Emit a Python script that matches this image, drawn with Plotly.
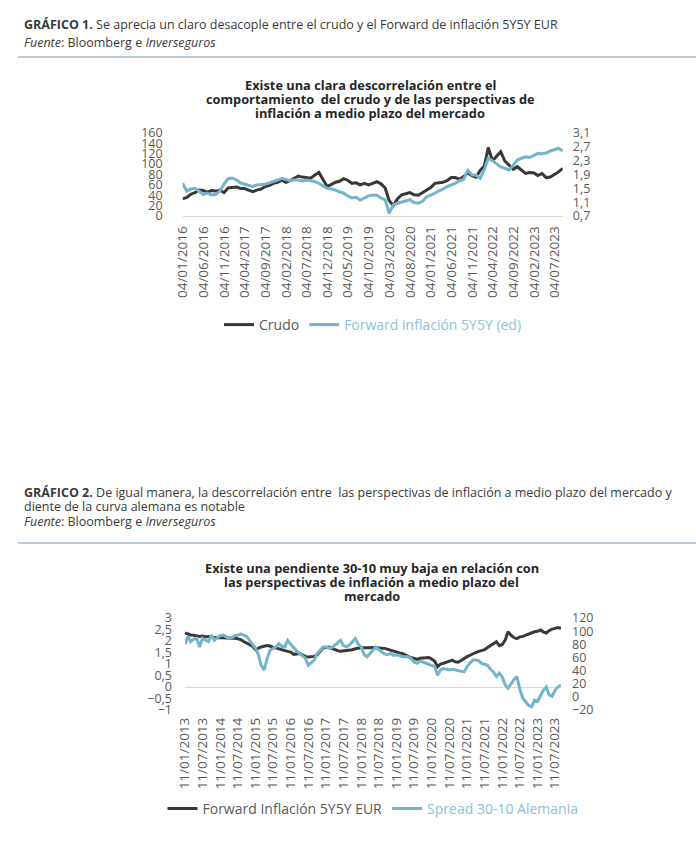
import pandas as pd
import plotly.graph_objects as go

# ---------------- Data: Chart 1 (monthly, Jan 2016 - Sep 2023) ----------------
crudo = [
    33, 36, 42, 45, 50, 49, 46, 49, 48, 50, 45, 54,
    55, 56, 53, 53, 50, 47, 50, 52, 57, 59, 63, 65,
    69, 65, 68, 73, 77, 75, 74, 73, 79, 84, 70, 57,
    61, 65, 67, 72, 69, 63, 64, 60, 63, 60, 63, 66,
    62, 54, 30, 20, 33, 41, 43, 45, 41, 40, 45, 50,
    55, 63, 64, 65, 68, 74, 74, 71, 76, 83, 78, 75,
    88, 97, 132, 106, 115, 124, 106, 98, 90, 95, 88, 82,
    84, 83, 78, 82, 74, 75, 80, 85, 92,
]
forward_5y5y_ed = [
    1.65, 1.42, 1.48, 1.50, 1.42, 1.32, 1.36, 1.31, 1.33, 1.42, 1.62, 1.78,
    1.80, 1.74, 1.66, 1.62, 1.60, 1.55, 1.60, 1.60, 1.62, 1.66, 1.69, 1.74,
    1.79, 1.76, 1.72, 1.74, 1.74, 1.71, 1.74, 1.72, 1.70, 1.64, 1.56, 1.50,
    1.48, 1.45, 1.40, 1.36, 1.28, 1.22, 1.24, 1.16, 1.22, 1.28, 1.31, 1.30,
    1.22, 1.17, 0.78, 1.02, 1.07, 1.11, 1.15, 1.17, 1.09, 1.07, 1.12, 1.25,
    1.30, 1.36, 1.40, 1.48, 1.55, 1.60, 1.64, 1.72, 1.76, 2.02, 1.89, 1.88,
    1.79, 2.05, 2.37, 2.30, 2.22, 2.12, 2.08, 2.03, 2.17, 2.32, 2.37, 2.41,
    2.39, 2.46, 2.51, 2.50, 2.52, 2.58, 2.62, 2.66, 2.58,
]
dates1 = pd.date_range("2016-01-01", periods=len(crudo), freq="MS")

# ---------------- Data: Chart 2 (monthly, Jan 2013 - Sep 2023) ----------------
forward_5y5y_eur = [
    2.35, 2.30, 2.26, 2.25, 2.23, 2.20, 2.22, 2.19, 2.20, 2.17, 2.14, 2.15,
    2.14, 2.13, 2.12, 2.14, 2.12, 2.13, 2.10, 2.06, 1.98, 1.91, 1.85, 1.77,
    1.62, 1.70, 1.74, 1.77, 1.80, 1.78, 1.72, 1.70, 1.65, 1.62, 1.58, 1.55,
    1.52, 1.42, 1.45, 1.46, 1.40, 1.33, 1.30, 1.31, 1.33, 1.40, 1.55, 1.70,
    1.72, 1.74, 1.68, 1.62, 1.58, 1.55, 1.57, 1.56, 1.58, 1.62, 1.66, 1.70,
    1.72, 1.71, 1.70, 1.71, 1.72, 1.70, 1.71, 1.69, 1.68, 1.64, 1.58, 1.54,
    1.50, 1.48, 1.46, 1.40, 1.33, 1.27, 1.25, 1.20, 1.25, 1.27, 1.26, 1.28,
    1.22, 1.12, 0.88, 1.00, 1.03, 1.08, 1.15, 1.17, 1.10, 1.08, 1.15, 1.25,
    1.32, 1.38, 1.45, 1.50, 1.55, 1.60, 1.62, 1.72, 1.80, 1.90, 1.97, 1.80,
    1.85, 2.05, 2.40, 2.25, 2.15, 2.10, 2.18, 2.20, 2.26, 2.30, 2.36, 2.40,
    2.42, 2.48, 2.40, 2.35, 2.45, 2.52, 2.55, 2.58, 2.55,
]
spread_30_10 = [
    80, 92, 84, 88, 89, 76, 89, 86, 84, 94, 86, 90,
    93, 94, 91, 89, 90, 93, 94, 96, 94, 92, 86, 80,
    74, 64, 48, 41, 58, 71, 74, 76, 81, 77, 76, 86,
    80, 74, 70, 66, 62, 59, 48, 52, 56, 66, 72, 76,
    76, 74, 75, 78, 82, 86, 78, 76, 79, 84, 89, 80,
    76, 64, 61, 66, 71, 76, 72, 69, 65, 64, 66, 63,
    64, 63, 61, 61, 61, 58, 53, 51, 54, 53, 51, 50,
    48, 46, 33, 41, 43, 42, 41, 42, 41, 40, 40, 38,
    46, 52, 56, 56, 55, 51, 49, 48, 42, 38, 31, 36,
    30, 18, 13, 20, 26, 31, 12, -2, -8, -13, -15, -5,
    -7, 3, 10, 15, 3, 1, 10, 15, 18,
]
dates2 = pd.date_range("2013-01-01", periods=len(spread_30_10), freq="MS") + pd.Timedelta(days=10)

# ---------------- Texts ----------------
header1 = "<b>GRÁFICO 1.</b> Se aprecia un claro desacople entre el crudo y el Forward de inflación 5Y5Y EUR"
source = "<i>Fuente</i>: Bloomberg e <i>Inverseguros</i>"
header2a = "<b>GRÁFICO 2.</b> De igual manera, la descorrelación entre  las perspectivas de inflación a medio plazo del mercado y"
header2b = "diente de la curva alemana es notable"
title1 = ["Existe una clara descorrelación entre el",
          "comportamiento  del crudo y de las perspectivas de",
          "inflación a medio plazo del mercado"]
title2 = ["Existe una pendiente 30-10 muy baja en relación con",
          "las perspectivas de inflación a medio plazo del",
          "mercado"]

DARK = "#383838"
CYAN = "#72b4cb"
CYAN_TXT = "#8cc2d4"
GRAY = "#595959"
W, H = 696, 847
FONT = "Open Sans"


def px(x):
    return x / W


def py(y):
    return 1 - y / H


fig = go.Figure()
fig.add_trace(go.Scatter(x=dates1, y=crudo, mode="lines", name="Crudo",
                         line=dict(color=DARK, width=3), xaxis="x", yaxis="y", legend="legend"))
fig.add_trace(go.Scatter(x=dates1, y=forward_5y5y_ed, mode="lines",
                         name=f"<span style='color:{CYAN_TXT}'>Forward inflación 5Y5Y (ed)</span>",
                         line=dict(color=CYAN, width=3), xaxis="x", yaxis="y2", legend="legend"))
fig.add_trace(go.Scatter(x=dates2, y=forward_5y5y_eur, mode="lines", name="Forward Inflación 5Y5Y EUR",
                         line=dict(color=DARK, width=3), xaxis="x2", yaxis="y3", legend="legend2"))
fig.add_trace(go.Scatter(x=dates2, y=spread_30_10, mode="lines",
                         name=f"<span style='color:{CYAN_TXT}'>Spread 30-10 Alemania</span>",
                         line=dict(color=CYAN, width=3), xaxis="x2", yaxis="y4", legend="legend2"))

ytickfont = dict(family=FONT, size=12.5, color=GRAY)
xtickfont = dict(family=FONT, size=13.5, color=GRAY)
xcommon = dict(type="date", showgrid=False, zeroline=False, ticks="", tickangle=-90,
               tickformat="%d/%m/%Y", tickfont=xtickfont, ticklabelstandoff=4, automargin=False)
ycommon = dict(showgrid=False, zeroline=False, ticks="", tickfont=ytickfont, automargin=False)

legfont = dict(family=FONT, size=14, color=GRAY)
fig.update_layout(
    template="none",
    width=W, height=H, margin=dict(l=0, r=0, t=0, b=0, pad=0), autosize=False,
    paper_bgcolor="white", plot_bgcolor="white", separators=",.",
    font=dict(family=FONT, color=GRAY),
    xaxis=dict(**xcommon, domain=[px(182.6), px(562.8)], anchor="y",
               range=["2016-01-01", "2023-09-01"], tick0="2016-01-04", dtick="M5",
               showline=True, linecolor="#d9d9d9", linewidth=1),
    yaxis=dict(**ycommon, domain=[py(216), py(133)], anchor="x", range=[0, 160], dtick=20,
               ticklabelstandoff=19),
    yaxis2=dict(**ycommon, overlaying="y", side="right", anchor="x", range=[0.7, 3.1],
                tick0=0.7, dtick=0.4, ticklabelstandoff=9),
    xaxis2=dict(**xcommon, domain=[px(185), px(561)], anchor="y3",
                range=["2013-01-11", "2023-09-11"], tick0="2013-01-11", dtick="M6"),
    yaxis3=dict(showgrid=False, ticks="", tickfont=ytickfont, domain=[py(710), py(618)], anchor="x2",
                range=[-1, 3], dtick=0.5, zeroline=True, zerolinecolor="#d9d9d9", zerolinewidth=1,
                ticklabelstandoff=12, automargin=False),
    yaxis4=dict(**ycommon, overlaying="y3", side="right", anchor="x2", range=[-20, 120],
                dtick=20, ticklabelstandoff=10),
    legend=dict(orientation="h", x=px(373), xanchor="center", y=py(325), yanchor="middle",
                font=legfont, itemwidth=30, tracegroupgap=0, bgcolor="rgba(0,0,0,0)"),
    legend2=dict(orientation="h", x=px(373), xanchor="center", y=py(809), yanchor="middle",
                 font=legfont, itemwidth=30, tracegroupgap=0, bgcolor="rgba(0,0,0,0)"),
    showlegend=True,
)

anns = []
hdr_font = dict(family=FONT, size=12.5, color="#3a3a3a")
for txt, y in [(header1, 25), (source, 42), (header2a, 492), (header2b, 507), (source, 521)]:
    anns.append(dict(text=txt, x=px(22), y=py(y), xref="paper", yref="paper", xanchor="left",
                     yanchor="middle", showarrow=False, font=hdr_font))
ttl_font = dict(family=FONT, size=12.8, color="#262626")
for txt, y in zip(title1, [85, 99, 113]):
    anns.append(dict(text=f"<b>{txt}</b>", x=px(370), y=py(y), xref="paper", yref="paper",
                     xanchor="center", yanchor="middle", showarrow=False, font=ttl_font))
for txt, y in zip(title2, [568, 582, 596]):
    anns.append(dict(text=f"<b>{txt}</b>", x=px(372), y=py(y), xref="paper", yref="paper",
                     xanchor="center", yanchor="middle", showarrow=False, font=ttl_font))
fig.update_layout(annotations=anns)

for y in [57, 543]:
    fig.add_shape(type="line", xref="paper", yref="paper", x0=px(18), x1=1, y0=py(y), y1=py(y),
                  line=dict(color="#a3b9c9", width=1.5))

fig.write_html("out.html", config={"displayModeBar": False},
               post_script="document.body.style.margin='0px';document.body.style.overflow='hidden';")
